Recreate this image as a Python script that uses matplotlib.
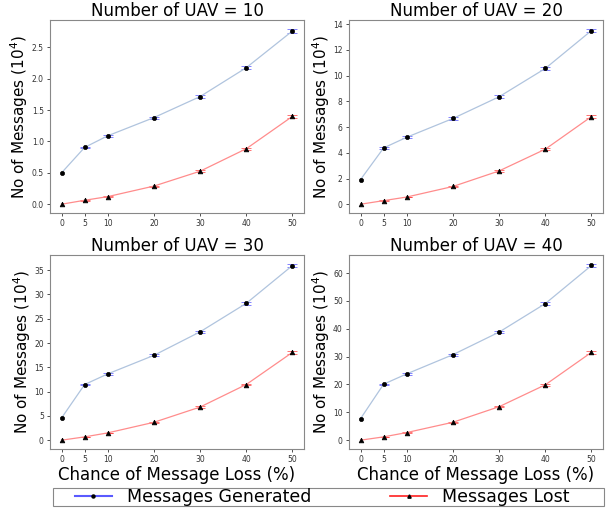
import numpy as np
import matplotlib
matplotlib.use("Agg")
import matplotlib.pyplot as plt
from matplotlib.lines import Line2D
from matplotlib.patches import Rectangle

# chance of message loss (%)
loss = [0, 5, 10, 20, 30, 40, 50]
uav_counts = [10, 20, 30, 40]

# messages in units of 10^4
gen_10 = [0.50, 0.905, 1.09, 1.38, 1.715, 2.175, 2.76]
lost_10 = [0.0, 0.063, 0.121, 0.289, 0.526, 0.884, 1.40]
gen_20 = [1.92, 4.38, 5.21, 6.67, 8.36, 10.56, 13.51]
lost_20 = [0.0, 0.28, 0.56, 1.38, 2.59, 4.28, 6.82]
gen_30 = [4.57, 11.46, 13.64, 17.46, 22.3, 28.17, 35.95]
lost_30 = [0.0, 0.68, 1.5, 3.68, 6.82, 11.46, 18.08]
gen_40 = [7.74, 20.12, 23.81, 30.71, 38.81, 49.05, 62.74]
lost_40 = [0.0, 1.19, 2.74, 6.43, 12.02, 19.88, 31.55]

# error bar half widths (same units)
gen_err_10 = [0.0, 0.01, 0.012, 0.015, 0.02, 0.025, 0.035]
lost_err_10 = [0.0, 0.004, 0.006, 0.008, 0.012, 0.015, 0.02]
gen_err_20 = [0.0, 0.05, 0.06, 0.08, 0.1, 0.12, 0.14]
lost_err_20 = [0.0, 0.02, 0.03, 0.04, 0.06, 0.08, 0.1]
gen_err_30 = [0.0, 0.12, 0.14, 0.18, 0.22, 0.3, 0.35]
lost_err_30 = [0.0, 0.05, 0.07, 0.1, 0.15, 0.2, 0.25]
gen_err_40 = [0.0, 0.2, 0.25, 0.3, 0.38, 0.5, 0.6]
lost_err_40 = [0.0, 0.08, 0.12, 0.18, 0.25, 0.35, 0.45]

gens = [gen_10, gen_20, gen_30, gen_40]
losts = [lost_10, lost_20, lost_30, lost_40]
gen_errs = [gen_err_10, gen_err_20, gen_err_30, gen_err_40]
lost_errs = [lost_err_10, lost_err_20, lost_err_30, lost_err_40]

fig = plt.figure(figsize=(6.11, 5.08), dpi=100)

W = 254 / 611
positions = [
    (50 / 611, 1 - 213 / 508, W, 193 / 508),
    (349 / 611, 1 - 213 / 508, W, 193 / 508),
    (50 / 611, 1 - 449 / 508, W, 194 / 508),
    (349 / 611, 1 - 449 / 508, W, 194 / 508),
]

for i in range(4):
    ax = fig.add_axes(positions[i])
    ax.errorbar(loss, gens[i], yerr=gen_errs[i], errorevery=(1, 1),
                color="#b0c4de", lw=0.9, marker="o", ms=3.0, mew=0.5,
                mfc="black", mec="black", ecolor="#5050ff",
                elinewidth=1.3, capsize=3.3, capthick=1.3)
    ax.errorbar(loss, losts[i], yerr=lost_errs[i], errorevery=(1, 1),
                color="#ff8c8c", lw=0.9, marker="^", ms=3.4, mew=0.5,
                mfc="black", mec="black", ecolor="#ff3a3a",
                elinewidth=1.3, capsize=3.3, capthick=1.3)
    ax.set_title("Number of UAV = %d" % uav_counts[i], fontsize=12, pad=2)
    ax.set_ylabel("No of Messages (10$^4$)", fontsize=11, labelpad=1)
    ax.set_xticks(loss)
    ax.tick_params(labelsize=5.5, colors="#333333", length=2.5, width=0.6,
                   pad=2)
    for sp in ax.spines.values():
        sp.set_color("#888888")
        sp.set_linewidth(0.8)
    if i >= 2:
        ax.set_xlabel("Chance of Message Loss (%)", fontsize=12, labelpad=1)

# legend frame drawn by hand, entries placed inside it
fig.patches.append(Rectangle((53 / 611, 2 / 508), 551 / 611, 18 / 508,
                             transform=fig.transFigure, fill=False,
                             edgecolor="#888888", lw=0.8))
handles = [
    Line2D([], [], color="#5a5aff", lw=1.5, marker="o", ms=2.2,
           mfc="black", mec="black"),
    Line2D([], [], color="#ff2020", lw=1.2, marker="^", ms=2.4,
           mfc="black", mec="black"),
]
fig.legend(handles, ["Messages Generated", "Messages Lost"],
           loc="center left", bbox_to_anchor=(75 / 611, 1 - 497 / 508),
           ncol=2, fontsize=12.5, frameon=False, borderpad=0,
           borderaxespad=0, handlelength=2.13, handletextpad=0.86,
           columnspacing=4.55)

fig.savefig("out.png", dpi=100)
